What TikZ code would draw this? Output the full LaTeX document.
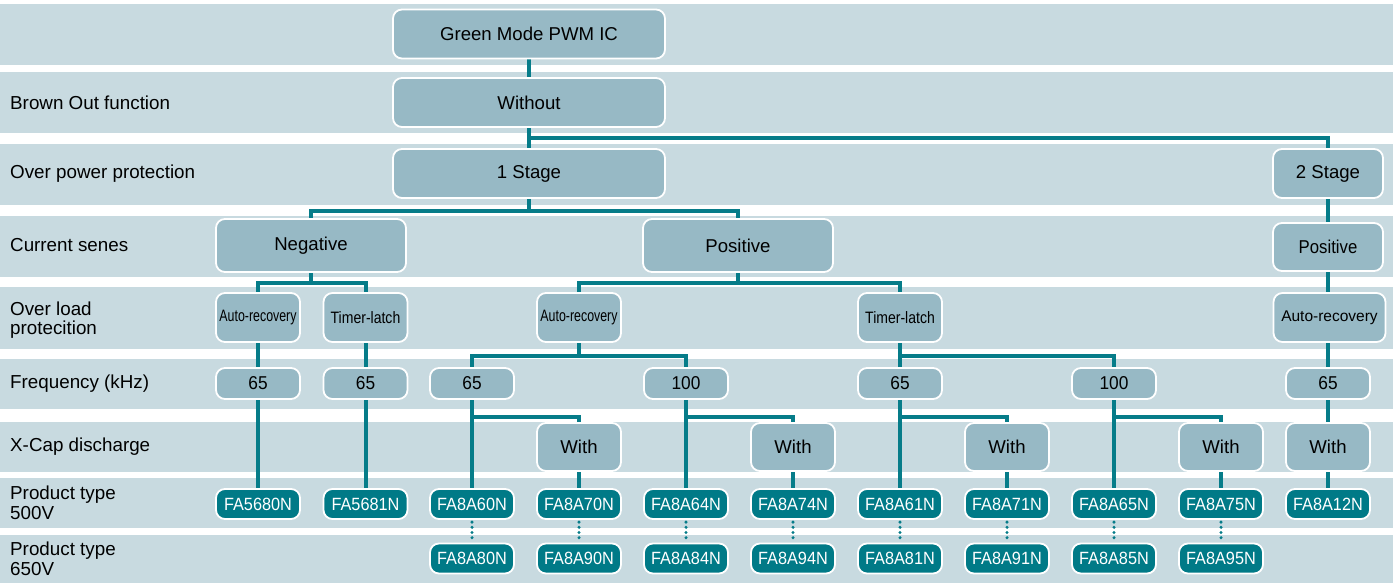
\documentclass[tikz,border=0pt]{standalone}
\usepackage{fontspec}
\usepackage{graphicx}
\setmainfont{Liberation Sans}
\pgfdeclarelayer{bg}
\pgfdeclarelayer{edges}
\pgfsetlayers{bg,edges,main}
\definecolor{bandc}{HTML}{C8DAE0}
\definecolor{boxc}{HTML}{97B9C5}
\definecolor{tealc}{HTML}{007A87}
\definecolor{linec}{HTML}{067C89}
\newcommand\nx[2]{\scalebox{#1}[1]{#2}}
\tikzset{
  lbox/.style={draw=white, line width=1.8pt, fill=boxc, rounded corners=9pt, inner sep=0pt,
    font=\fontsize{18.6}{20}\selectfont, text=black},
  bigbox/.style={lbox, minimum width=272pt, minimum height=49pt},
  smallbox/.style={lbox, minimum width=84pt, minimum height=49pt},
  olbox/.style={smallbox, font=\fontsize{16.5}{18}\selectfont},
  freqbox/.style={lbox, minimum width=84pt, minimum height=31pt, rounded corners=9pt},
  prodbox/.style={draw=white, line width=1.8pt, fill=tealc, rounded corners=9pt, inner sep=0pt,
    minimum width=84pt, minimum height=30pt, text=white, font=\fontsize{17.7}{19}\selectfont},
  conn/.style={draw=linec, line width=4pt},
  dotconn/.style={draw=linec, line width=3.4pt, line cap=round, dash pattern=on 0pt off 5.2pt},
  rowlabel/.style={anchor=west, align=left, inner sep=0pt, text=black,
    font=\fontsize{18.8}{19.5}\selectfont},
}
\begin{document}
\begin{tikzpicture}[x=1pt,y=-1pt]
\useasboundingbox (0,0) rectangle (1397,583);
\begin{pgfonlayer}{bg}
\foreach \a/\b in {4/65,72/133,144/205,216/277,287/349,359/409,422/472,478/528,535/583}
  \fill[bandc] (0,\a) rectangle (1393,\b);
\end{pgfonlayer}
% row labels
\node[rowlabel] (l2) at (10,102.5) {Brown Out function};
\node[rowlabel] (l3) at (10,174) {Over power protection};
\node[rowlabel] (l4) at (10,245) {Current senes};
\node[rowlabel] (l5) at (10,320) {Over load\\protecition};
\node[rowlabel] (l6) at (10,384) {Frequency (kHz)};
\node[rowlabel] (l7) at (10,447) {X-Cap discharge};
\node[rowlabel] (l8) at (10,503) {Product type\\500V};
\node[rowlabel] (l9) at (10,559) {Product type\\650V};
% tree
\node[bigbox] (green) at (529,34) {Green Mode PWM IC};
\node[bigbox] (without) at (529,102.5) {Without};
\node[bigbox] (s1) at (529,173.5) {1 Stage};
\node[lbox, minimum width=110pt, minimum height=49pt] (s2) at (1328,173.5) {2 Stage};
\node[lbox, minimum width=190pt, minimum height=53pt] (neg) at (311,245.5) {Negative};
\node[lbox, minimum width=190pt, minimum height=53pt] (pos) at (738,245.5) {Positive};
\node[lbox, minimum width=110pt, minimum height=48pt] (pos2) at (1328,247) {\nx{0.9}{Positive}};
% over load
\node[olbox] (a0) at (258,317.5) {\nx{0.75}{Auto-recovery}};
\node[olbox] (t1) at (365.5,317.5) {\nx{0.85}{Timer-latch}};
\node[olbox] (a3) at (579,317.5) {\nx{0.75}{Auto-recovery}};
\node[olbox] (t6) at (900,317.5) {\nx{0.85}{Timer-latch}};
\node[lbox, minimum width=112pt, minimum height=49pt, font=\fontsize{15.5}{17}\selectfont] (a10) at (1329.5,317.5) {Auto-recovery};
% frequency
\node[freqbox] (f0) at (258,383.5) {\nx{0.93}{65}};
\node[freqbox] (f1) at (365.5,383.5) {\nx{0.93}{65}};
\node[freqbox] (f2) at (472,383.5) {\nx{0.93}{65}};
\node[freqbox] (f4) at (686,383.5) {\nx{0.93}{100}};
\node[freqbox] (f6) at (900,383.5) {\nx{0.93}{65}};
\node[freqbox] (f8) at (1114,383.5) {\nx{0.93}{100}};
\node[freqbox] (f10) at (1328,383.5) {\nx{0.93}{65}};
% with
\node[smallbox, minimum height=48pt] (w3) at (579,447) {With};
\node[smallbox, minimum height=48pt] (w5) at (793,447) {With};
\node[smallbox, minimum height=48pt] (w7) at (1007,447) {With};
\node[smallbox, minimum height=48pt] (w9) at (1221,447) {With};
\node[smallbox, minimum height=48pt] (w10) at (1328,447) {With};
% products 500V
\node[prodbox] (p0) at (258,504) {\nx{0.92}{FA5680N}};
\node[prodbox] (p1) at (365.5,504) {\nx{0.92}{FA5681N}};
\node[prodbox] (p2) at (472,504) {\nx{0.92}{FA8A60N}};
\node[prodbox] (p3) at (579,504) {\nx{0.92}{FA8A70N}};
\node[prodbox] (p4) at (686,504) {\nx{0.92}{FA8A64N}};
\node[prodbox] (p5) at (793,504) {\nx{0.92}{FA8A74N}};
\node[prodbox] (p6) at (900,504) {\nx{0.92}{FA8A61N}};
\node[prodbox] (p7) at (1007,504) {\nx{0.92}{FA8A71N}};
\node[prodbox] (p8) at (1114,504) {\nx{0.92}{FA8A65N}};
\node[prodbox] (p9) at (1221,504) {\nx{0.92}{FA8A75N}};
\node[prodbox] (p10) at (1328,504) {\nx{0.92}{FA8A12N}};
% products 650V
\node[prodbox] (q2) at (472,558.5) {\nx{0.92}{FA8A80N}};
\node[prodbox] (q3) at (579,558.5) {\nx{0.92}{FA8A90N}};
\node[prodbox] (q4) at (686,558.5) {\nx{0.92}{FA8A84N}};
\node[prodbox] (q5) at (793,558.5) {\nx{0.92}{FA8A94N}};
\node[prodbox] (q6) at (900,558.5) {\nx{0.92}{FA8A81N}};
\node[prodbox] (q7) at (1007,558.5) {\nx{0.92}{FA8A91N}};
\node[prodbox] (q8) at (1114,558.5) {\nx{0.92}{FA8A85N}};
\node[prodbox] (q9) at (1221,558.5) {\nx{0.92}{FA8A95N}};
% connectors
\begin{pgfonlayer}{edges}
\draw[conn] (green.south) -- (without.north);
\draw[conn] (without.south) -- (s1.north);
\draw[conn] (without.south) -- ++(0,10.5) -| (s2.north);
\draw[conn] (s1.south) -- ++(0,12.5) -| (neg.north);
\draw[conn] (s1.south) -- ++(0,12.5) -| (pos.north);
\draw[conn] (s2.south) -- (pos2.north);
\draw[conn] (neg.south) -- ++(0,10) -| (a0.north);
\draw[conn] (neg.south) -- ++(0,10) -| (t1.north);
\draw[conn] (pos.south) -- ++(0,10) -| (a3.north);
\draw[conn] (pos.south) -- ++(0,10) -| (t6.north);
\draw[conn] (pos2.south) -- (a10.north -| pos2.south);
\draw[conn] (a0.south) -- (f0.north);
\draw[conn] (f0.south) -- (p0.north);
\draw[conn] (t1.south) -- (f1.north);
\draw[conn] (f1.south) -- (p1.north);
\draw[conn] (a3.south) -- ++(0,13) -| (f2.north);
\draw[conn] (a3.south) -- ++(0,13) -| (f4.north);
\draw[conn] (t6.south) -- ++(0,13) -| (f6.north);
\draw[conn] (t6.south) -- ++(0,13) -| (f8.north);
\draw[conn] (a10.south -| f10.north) -- (f10.north);
\draw[conn] (f10.south) -- (w10.north);
\draw[conn] (w10.south) -- (p10.north);
\foreach \f/\w/\p/\pw in {f2/w3/p2/p3, f4/w5/p4/p5, f6/w7/p6/p7, f8/w9/p8/p9}{
  \draw[conn] (\f.south) -- (\p.north);
  \draw[conn] (\f.south) -- ++(0,17) -| (\w.north);
  \draw[conn] (\w.south) -- (\pw.north);
}
\foreach \i in {2,...,9}
  \draw[dotconn] ([yshift=3pt]p\i.south) -- (q\i.north);
\end{pgfonlayer}
\end{tikzpicture}
\end{document}
